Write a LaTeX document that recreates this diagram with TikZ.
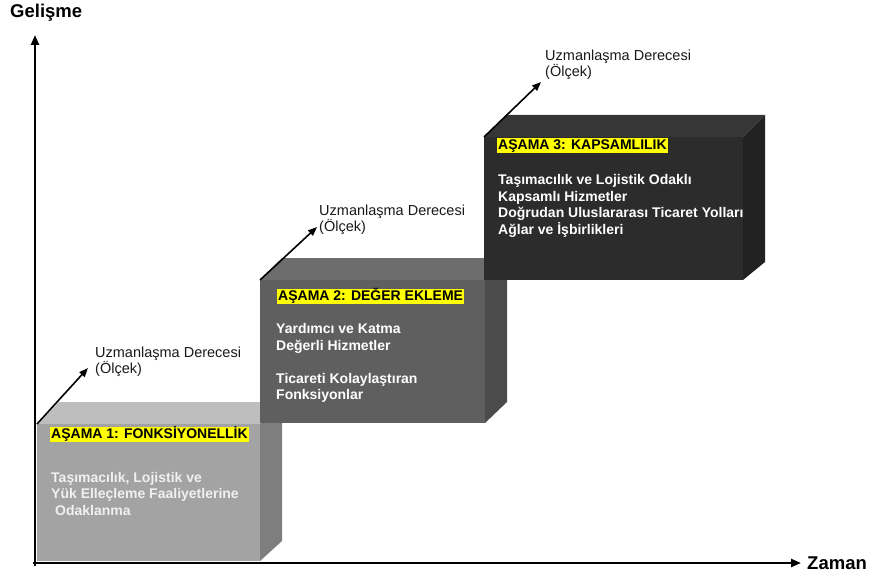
\documentclass[tikz,border=0pt]{standalone}
\usepackage{fontspec}
\setmainfont{Liberation Sans}
\usetikzlibrary{arrows.meta}
\definecolor{bOneF}{HTML}{A3A3A3}
\definecolor{bOneT}{HTML}{BEBEBE}
\definecolor{bOneS}{HTML}{7E7E7E}
\definecolor{bTwoF}{HTML}{5F5F5F}
\definecolor{bTwoT}{HTML}{6D6D6D}
\definecolor{bTwoS}{HTML}{4B4B4B}
\definecolor{bThrF}{HTML}{2C2C2C}
\definecolor{bThrT}{HTML}{363636}
\definecolor{bThrS}{HTML}{222222}
\definecolor{hl}{HTML}{FFFF00}
\begin{document}
\begin{tikzpicture}[x=1pt,y=-1pt,
  axis/.style={line width=2.4pt,-{Triangle[length=10pt,width=8pt]}},
  diag/.style={line width=1.6pt,-{Triangle[length=9pt,width=7pt]}},
  heading/.style={anchor=west,fill=hl,text=black,font=\bfseries\fontsize{14}{16}\selectfont,
    inner xsep=1pt,inner ysep=1pt,text height=10.5pt,text depth=2.5pt},
  bodytext/.style={anchor=north west,align=left,inner sep=0pt,text=white,
    font=\bfseries\fontsize{14}{16.4}\selectfont},
  scalelabel/.style={anchor=north west,align=left,inner sep=0pt,text=black!90,
    font=\fontsize{14.5}{15}\selectfont},
  axislabel/.style={anchor=west,inner sep=0pt,font=\bfseries\fontsize{18.5}{20}\selectfont}]
\useasboundingbox (0,0) rectangle (869,577);
\fill[white] (0,0) rectangle (869,577);

% Box 1
\coordinate (b1a) at (37,424);
\coordinate (b1b) at (260,424);
\coordinate (b1c) at (282,402);
\coordinate (b1d) at (59,402);
\coordinate (b1e) at (260,561);
\coordinate (b1f) at (282,541);
\coordinate (b1g) at (37,561);
\fill[bOneT] (b1a) -- (b1b) -- (b1c) -- (b1d) -- cycle;
\fill[bOneS] (b1b) -- (b1c) -- (b1f) -- (b1e) -- cycle;
\fill[bOneF] (b1a) rectangle (b1e);

% Box 2
\coordinate (b2a) at (260,280);
\coordinate (b2b) at (485,280);
\coordinate (b2c) at (507,258);
\coordinate (b2d) at (282,258);
\coordinate (b2e) at (485,423);
\coordinate (b2f) at (507,402);
\fill[bTwoT] (b2a) -- (b2b) -- (b2c) -- (b2d) -- cycle;
\fill[bTwoS] (b2b) -- (b2c) -- (b2f) -- (b2e) -- cycle;
\fill[bTwoF] (b2a) rectangle (b2e);

% Box 3
\coordinate (b3a) at (484,137);
\coordinate (b3b) at (743,137);
\coordinate (b3c) at (765,115);
\coordinate (b3d) at (506,115);
\coordinate (b3e) at (743,280);
\coordinate (b3f) at (765,262);
\fill[bThrT] (b3a) -- (b3b) -- (b3c) -- (b3d) -- cycle;
\fill[bThrS] (b3b) -- (b3c) -- (b3f) -- (b3e) -- cycle;
\fill[bThrF] (b3a) rectangle (b3e);

% Axes
\coordinate (origin) at (35,563);
\coordinate (ytop) at (35,35);
\coordinate (xend) at (801,563);
\draw[axis] (35,566) -- (ytop);
\draw[axis] (33,563) -- (xend);
\node[axislabel] (gel) at (10,13) {Gelişme};
\node[axislabel] (zam) at (807,563) {Zaman};

% Scale arrows and labels
\coordinate (t1) at (88,368);
\coordinate (t2) at (317,227);
\coordinate (t3) at (541,82);
\draw[diag] (b1a) -- (t1);
\draw[diag] (b2a) -- (t2);
\draw[diag] (b3a) -- (t3);
\node[scalelabel] (l1) at (95,346.5) {Uzmanlaşma Derecesi\\(Ölçek)};
\node[scalelabel] (l2) at (319,204.5) {Uzmanlaşma Derecesi\\(Ölçek)};
\node[scalelabel] (l3) at (545,49.5) {Uzmanlaşma Derecesi\\(Ölçek)};

% Headings
\node[heading] (h1) at (50,434.5) {AŞAMA 1: FONKSİYONELLİK};
\node[heading] (h2) at (277,296) {AŞAMA 2: DEĞER EKLEME};
\node[heading] (h3) at (497,145.5) {AŞAMA 3: KAPSAMLILIK};

% Body texts
\node[bodytext,text=white!94!black] (x1) at (51,472) {Taşımacılık, Lojistik ve\\Yük Elleçleme Faaliyetlerine\\\hspace{4pt}Odaklanma};
\node[bodytext] (x2) at (276,323.5) {Yardımcı ve Katma\\Değerli Hizmetler\\[16.4pt]Ticareti Kolaylaştıran\\Fonksiyonlar};
\node[bodytext] (x3) at (498,174.5) {Taşımacılık ve Lojistik Odaklı\\Kapsamlı Hizmetler\\Doğrudan Uluslararası Ticaret Yolları\\Ağlar ve İşbirlikleri};
\end{tikzpicture}
\end{document}
